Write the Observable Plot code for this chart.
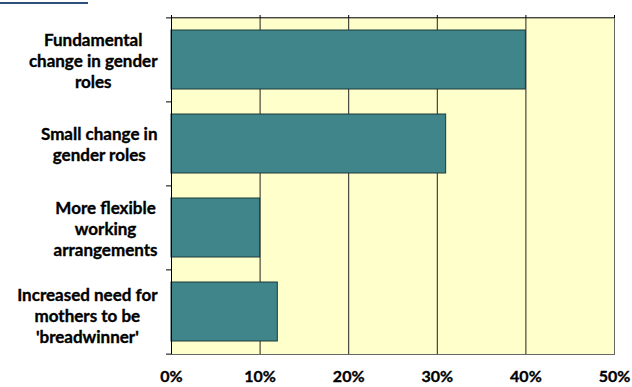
<!DOCTYPE html>
<html>
<head>
<meta charset="utf-8">
<script src="https://cdn.jsdelivr.net/npm/d3@7"></script>
<script src="https://cdn.jsdelivr.net/npm/@observablehq/plot@0.6"></script>
<style>
  html, body { margin: 0; padding: 0; background: #fff; }
  #wrap { position: relative; width: 632px; height: 387px; overflow: hidden; }
  #rule { position: absolute; left: 0; top: 2px; width: 88px; height: 2px; background: #2d4f7c; }
  #chart { position: absolute; left: 0; top: 0; }
  #chart text { stroke: #000; stroke-width: 0.35px; }
</style>
</head>
<body>
<div id="wrap">
  <div id="rule"></div>
  <div id="chart"></div>
</div>
<script>
// Reasons given, share of respondents (%)
const categories = [
  "Fundamental\nchange in gender\nroles",
  "Small change in\ngender roles",
  "More flexible\nworking\narrangements",
  "Increased need for\nmothers to be\n'breadwinner'"
];
const values = [40, 31, 10, 12];
const tickValues = [0, 10, 20, 30, 40, 50];
const gridValues = [10, 20, 30, 40];

const data = categories.map((c, i) => ({category: c, value: values[i]}));

const FONT = "Lato, 'Open Sans', sans-serif";
const labelSize = 17;
const W = 632, H = 387;
const mTop = 17, mBottom = 33, mLeft = 171, mRight = 18;
const step = (H - mTop - mBottom) / categories.length;

// Width of the widest line of each category label, so the block can be
// right-aligned next to the axis while its lines stay centred.
const ctx = document.createElement("canvas").getContext("2d");
ctx.font = `bold ${labelSize}px ${FONT}`;
const blockWidth = categories.map(c => d3.max(c.split("\n"), s => ctx.measureText(s).width));
const gap = 14;

const labelMarks = categories.map((c, i) =>
  Plot.text([c], {
    x: 0, y: d => d, text: d => d,
    dx: -(gap + blockWidth[i] / 2),
    dy: i === 3 ? 3 : 0,
    textAnchor: "middle", lineAnchor: "middle",
    lineHeight: 1.24, fontSize: labelSize, fontWeight: "bold", fill: "#000"
  })
);

const chart = Plot.plot({
  width: W, height: H,
  marginTop: mTop, marginBottom: mBottom, marginLeft: mLeft, marginRight: mRight,
  style: {fontFamily: FONT, fontSize: "16px", fontWeight: "bold", color: "#000", background: "transparent", overflow: "visible"},
  x: {domain: [0, 50], label: null},
  y: {domain: categories, paddingInner: 0.3, paddingOuter: 0.15, label: null},
  marks: [
    Plot.frame({fill: "#ffffcc", stroke: null}),
    Plot.ruleX(gridValues, {stroke: "#222", strokeWidth: 1}),
    Plot.barX(data, {x: "value", y: "category", fill: "#3f8589", stroke: "#1c3a3b", strokeWidth: 1}),
    Plot.frame({stroke: "#666", strokeWidth: 1}),
    Plot.ruleY([categories[0]], {dy: -step / 2, x1: 0, x2: 50, stroke: "#333"}),
    Plot.ruleX([0], {stroke: "#000", strokeWidth: 1}),
    // tick marks above the frame
    Plot.axisX({anchor: "top", ticks: tickValues, tickSize: 3, tickFormat: () => "", label: null, stroke: "#000"}),
    // percentage labels below
    Plot.axisX({anchor: "bottom", ticks: tickValues, tickSize: 0, tickPadding: 16, tickFormat: d => d + "%", label: null, fontSize: 16, fontWeight: "bold"}),
    // left ticks on category boundaries
    Plot.axisY({ticks: categories, tickSize: 5, tickFormat: () => "", dy: -step / 2, label: null, stroke: "#000"}),
    Plot.axisY({ticks: [categories[categories.length - 1]], tickSize: 5, tickFormat: () => "", dy: step / 2, label: null, stroke: "#000"}),
    ...labelMarks
  ]
});
document.getElementById("chart").appendChild(chart);
</script>
</body>
</html>
